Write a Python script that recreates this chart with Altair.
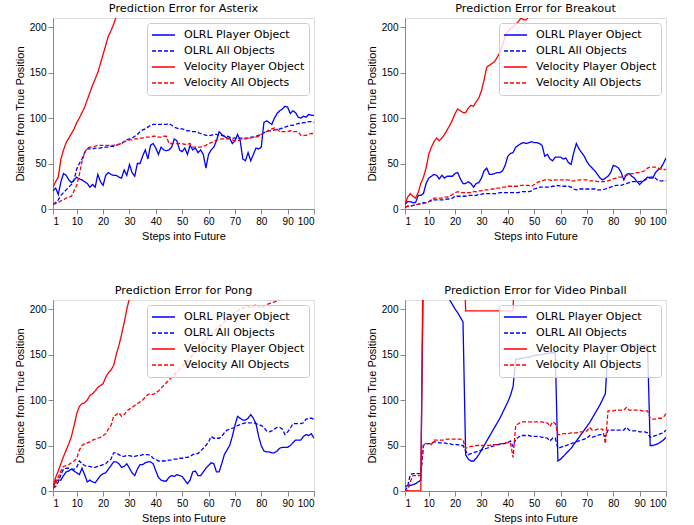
import altair as alt
import pandas as pd

steps = list(range(1, 101))
series_names = ["OLRL Player Object", "OLRL All Objects", "Velocity Player Object", "Velocity All Objects"]
titles = ["Prediction Error for Asterix", "Prediction Error for Breakout",
          "Prediction Error for Pong", "Prediction Error for Video Pinball"]
x_ticks = [1, 10, 20, 30, 40, 50, 60, 70, 80, 90, 100]
y_ticks = [0, 50, 100, 150, 200]

# ---------------- Asterix ----------------
ast_olrl_player = [20, 23, 16, 30, 39, 37, 32, 29, 32, 35, 33, 32, 30, 28, 24, 27, 24, 38, 30, 26,
                   37, 40, 38, 37, 37, 35, 34, 43, 37, 49, 40, 36, 50, 50, 58, 65, 55, 70, 72, 67,
                   60, 68, 65, 64, 65, 68, 77, 75, 65, 63, 67, 60, 70, 65, 67, 62, 65, 60, 45, 60,
                   65, 68, 75, 85, 82, 80, 78, 78, 72, 75, 82, 75, 55, 53, 62, 53, 60, 67, 66, 68,
                   95, 97, 95, 93, 100, 105, 108, 110, 113, 112, 105, 108, 106, 101, 100, 102, 101, 104, 103, 103]
ast_olrl_all = [5, 7, 10, 15, 18, 21, 24, 27, 32, 44, 50, 55, 62, 66, 66, 66, 67, 67, 67, 68,
                68, 68, 69, 69, 70, 71, 72, 74, 76, 77, 78, 80, 82, 85, 87, 88, 90, 92, 93, 93,
                93, 93, 93, 93, 94, 92, 90, 89, 88, 88, 87, 86, 86, 85, 85, 84, 83, 82, 81, 81,
                81, 82, 82, 81, 81, 80, 80, 79, 78, 78, 78, 78, 78, 78, 78, 79, 79, 80, 81, 82,
                84, 85, 86, 86, 87, 87, 88, 89, 90, 91, 92, 92, 93, 94, 94, 95, 95, 96, 96, 95]
ast_vel_player = [24, 30, 35, 55, 65, 73, 78, 83, 88, 95, 100, 106, 112, 120, 128, 136, 143, 150, 160, 170,
                  180, 190, 196, 203, 212, 221]
ast_vel_all = [5, 6, 7, 9, 10, 12, 13, 14, 20, 26, 38, 52, 62, 67, 68, 68, 69, 70, 70, 70,
               70, 70, 70, 70, 71, 71, 72, 74, 75, 76, 76, 77, 77, 78, 78, 79, 79, 79, 80, 80,
               79, 79, 80, 80, 72, 72, 72, 72, 72, 72, 71, 71, 72, 68, 68, 68, 68, 69, 70, 72,
               73, 74, 76, 76, 77, 77, 77, 77, 76, 75, 75, 76, 77, 77, 78, 78, 79, 79, 80, 82,
               84, 85, 87, 88, 89, 88, 85, 85, 85, 85, 86, 85, 85, 85, 81, 81, 81, 82, 83, 83]

# ---------------- Breakout ----------------
brk_olrl_player = [5, 8, 8, 7, 7, 15, 15, 17, 28, 34, 36, 38, 37, 33, 37, 34, 36, 36, 36, 39,
                   40, 33, 28, 28, 30, 28, 24, 28, 29, 34, 42, 45, 38, 38, 39, 40, 40, 42, 48, 58,
                   61, 62, 68, 70, 72, 73, 72, 73, 74, 73, 73, 72, 70, 58, 60, 55, 53, 57, 57, 57,
                   55, 56, 51, 49, 62, 72, 66, 62, 58, 52, 48, 45, 42, 38, 34, 32, 34, 36, 40, 48,
                   47, 45, 40, 32, 38, 39, 36, 34, 30, 27, 30, 32, 35, 34, 34, 40, 43, 45, 50, 56]
brk_olrl_all = [2, 3, 3, 4, 5, 5, 6, 7, 7, 8, 10, 10, 10, 10, 10, 10, 11, 11, 12, 14,
                14, 14, 14, 14, 15, 15, 15, 15, 16, 16, 17, 17, 17, 17, 17, 17, 18, 18, 18, 18,
                18, 18, 18, 18, 19, 19, 19, 19, 20, 22, 23, 24, 24, 24, 24, 24, 25, 25, 26, 25,
                25, 25, 25, 24, 22, 21, 22, 22, 22, 22, 22, 22, 22, 21, 21, 21, 22, 23, 24, 25,
                26, 26, 26, 27, 28, 29, 30, 30, 30, 30, 31, 32, 34, 35, 35, 34, 31, 31, 31, 31]
brk_vel_player = [5, 13, 17, 14, 12, 18, 28, 35, 45, 60, 68, 74, 78, 75, 78, 82, 87, 92, 98, 105,
                  110, 108, 106, 106, 111, 114, 113, 118, 122, 130, 142, 156, 158, 160, 162, 167, 172, 180, 190, 195,
                  198, 200, 203, 206, 210, 208, 208, 212, 215]
brk_vel_all = [2, 3, 3, 4, 4, 5, 6, 6, 7, 8, 9, 12, 12, 12, 12, 13, 13, 14, 16, 18,
               19, 18, 18, 18, 18, 18, 19, 19, 20, 20, 21, 21, 21, 22, 22, 23, 23, 24, 24, 25,
               25, 25, 25, 25, 26, 26, 26, 26, 25, 27, 29, 30, 31, 32, 32, 32, 31, 32, 32, 32,
               32, 32, 32, 31, 31, 31, 32, 32, 32, 32, 31, 31, 31, 30, 30, 30, 30, 31, 32, 33,
               34, 35, 35, 36, 37, 38, 39, 39, 40, 40, 41, 42, 45, 46, 46, 46, 45, 44, 44, 43]

# ---------------- Pong ----------------
png_olrl_player = [3, 12, 12, 12, 17, 21, 22, 24, 22, 20, 18, 25, 18, 10, 12, 10, 9, 13, 17, 19,
                   20, 24, 28, 32, 32, 30, 26, 27, 30, 25, 20, 17, 24, 29, 29, 31, 32, 32, 30, 22,
                   15, 12, 11, 11, 15, 17, 16, 18, 17, 16, 12, 8, 12, 21, 22, 17, 17, 21, 25, 28,
                   31, 30, 21, 21, 30, 40, 45, 50, 60, 72, 82, 80, 78, 78, 80, 84, 80, 74, 60, 50,
                   44, 43, 43, 42, 42, 44, 47, 48, 48, 48, 50, 53, 56, 56, 56, 60, 62, 61, 63, 58]
png_olrl_all = [3, 5, 10, 18, 24, 25, 25, 24, 24, 26, 33, 30, 28, 27, 27, 26, 26, 27, 28, 29,
                30, 33, 35, 42, 42, 40, 38, 38, 39, 39, 38, 38, 39, 39, 40, 40, 40, 39, 36, 35,
                33, 33, 33, 33, 34, 34, 35, 35, 36, 36, 37, 37, 38, 40, 41, 41, 44, 47, 50, 54,
                60, 58, 58, 58, 60, 64, 67, 68, 69, 70, 72, 73, 74, 75, 75, 75, 75, 74, 73, 72,
                70, 66, 65, 66, 68, 70, 70, 68, 62, 65, 69, 74, 74, 74, 74, 75, 79, 80, 80, 79]
png_vel_player = [3, 15, 22, 30, 38, 45, 52, 60, 72, 85, 93, 96, 97, 100, 105, 107, 110, 114, 116, 118,
                  125, 130, 133, 138, 150, 160, 172, 185, 200, 212, 225]
png_vel_all = [2, 8, 15, 22, 27, 28, 29, 31, 33, 36, 45, 50, 52, 53, 54, 56, 57, 58, 59, 61,
               63, 68, 72, 82, 84, 86, 82, 84, 88, 90, 92, 94, 96, 98, 100, 103, 106, 107, 106, 108,
               110, 113, 116, 119, 122, 125, 128, 131, 134, 137, 140, 143, 146, 150, 153, 156, 160, 163, 166, 170,
               172, 175, 178, 181, 183, 186, 189, 192, 194, 196, 198, 200, 201, 203, 203, 201, 203, 205, 203, 201,
               203, 205, 206, 207, 208, 209, 211, 213]

# ---------------- Video Pinball ----------------
vp_olrl_player = [5, 6, 6, 7, 8, 10, 12, 260, 255, 250, 245, 240, 235, 230, 225, 220, 215, 210, 205, 200,
                  196, 191, 186, 40, 35, 33, 33, 36, 40, 45, 50, 55, 60, 65, 70, 75, 80, 86, 92, 98,
                  105, 115, 145, 145, 146, 146, 147, 147, 148, 149, 149, 150, 150, 151, 151, 152, 152, 152, 33, 35,
                  38, 41, 44, 47, 51, 55, 59, 63, 67, 71, 75, 80, 85, 90, 95, 101, 107, 158, 159, 159,
                  159, 159, 160, 160, 160, 160, 160, 160, 160, 160, 160, 160, 160, 50, 50, 51, 52, 54, 56, 59]
vp_olrl_all = [0, 5, 18, 19, 19, 19, 19, 50, 52, 52, 52, 54, 54, 53, 53, 53, 52, 52, 51, 51,
               51, 50, 50, 44, 40, 41, 42, 43, 44, 45, 46, 47, 48, 49, 50, 51, 51, 52, 52, 53,
               55, 49, 57, 59, 61, 61, 61, 61, 60, 60, 60, 60, 59, 59, 58, 55, 58, 58, 47, 48,
               49, 50, 51, 52, 53, 54, 55, 56, 57, 58, 61, 59, 60, 61, 62, 62, 60, 67, 67, 67,
               67, 67, 67, 67, 70, 67, 66, 66, 66, 65, 65, 65, 64, 59, 60, 61, 62, 63, 64, 67]
vp_vel_player = [0, 0, 0, 0, 0, 0, 0, 300, 300, 300, 300, 300, 300, 300, 300, 300, 300, 300, 300, 300,
                 300, 300, 300, 198, 198, 198, 198, 198, 198, 198, 198, 198, 198, 198, 198, 198, 198, 198, 198, 198,
                 198, 198, 300]
vp_vel_all = [0, 0, 10, 17, 17, 17, 17, 52, 52, 52, 51, 56, 56, 56, 56, 56, 57, 57, 57, 57,
              57, 57, 56, 47, 48, 49, 49, 50, 50, 50, 50, 50, 50, 51, 51, 51, 52, 52, 53, 53,
              53, 37, 72, 74, 76, 76, 76, 76, 76, 76, 76, 76, 76, 75, 75, 71, 76, 74, 62, 62,
              63, 63, 63, 64, 64, 64, 65, 65, 65, 66, 70, 67, 67, 68, 68, 68, 52, 88, 88, 88,
              89, 89, 89, 89, 92, 89, 89, 89, 89, 89, 88, 88, 88, 80, 79, 79, 80, 80, 81, 85]

panels = [
    [ast_olrl_player, ast_olrl_all, ast_vel_player, ast_vel_all],
    [brk_olrl_player, brk_olrl_all, brk_vel_player, brk_vel_all],
    [png_olrl_player, png_olrl_all, png_vel_player, png_vel_all],
    [vp_olrl_player, vp_olrl_all, vp_vel_player, vp_vel_all],
]

FONT = "DejaVu Sans"
colors = ["#0000ff", "#0000ff", "#ff0000", "#ff0000"]
dashes = [[1, 0], [4, 2], [1, 0], [4, 2]]


def make_panel(title, series_lists):
    rows = []
    for k, (name, vals) in enumerate(zip(series_names, series_lists)):
        for s, v in zip(steps, vals):
            rows.append({"step": s, "value": v, "series": name, "order": k})
    df = pd.DataFrame(rows)
    legend = alt.Legend(
        title=None, orient="top-right", offset=5, symbolType="stroke",
        symbolSize=529, symbolStrokeWidth=1.4, clipHeight=16, rowPadding=0,
        labelFont=FONT, labelFontSize=11, labelColor="black", labelOffset=8,
        fillColor="rgba(255,255,255,0.8)", strokeColor="#cccccc", cornerRadius=3,
        padding=4, symbolOpacity=1,
    )
    return alt.Chart(df).mark_line(strokeWidth=1.3, clip=True).encode(
        x=alt.X("step:Q", scale=alt.Scale(domain=[1, 100], nice=False),
                axis=alt.Axis(values=x_ticks, title="Steps into Future", grid=False,
                              titleFontWeight="normal")),
        y=alt.Y("value:Q", scale=alt.Scale(domain=[0, 210], nice=False),
                axis=alt.Axis(values=y_ticks, title="Distance from True Position", grid=False,
                              titleFontWeight="normal")),
        color=alt.Color("series:N", scale=alt.Scale(domain=series_names, range=colors), legend=legend),
        strokeDash=alt.StrokeDash("series:N", scale=alt.Scale(domain=series_names, range=dashes), legend=legend),
        order=alt.Order("order:Q"),
        detail="series:N",
    ).properties(
        width=261, height=191,
        title=alt.TitleParams(title, font=FONT, fontSize=11.3, fontWeight="normal", color="black", offset=4),
    )


def indep(c):
    return c.resolve_scale(color="independent", strokeDash="independent").resolve_legend(
        color="independent", strokeDash="independent")


charts = [make_panel(t, p) for t, p in zip(titles, panels)]
top = indep(alt.hconcat(charts[0], charts[1], spacing=50))
bottom = indep(alt.hconcat(charts[2], charts[3], spacing=50))
chart = indep(alt.vconcat(top, bottom, spacing=42)).properties(
    padding={"left": 13, "top": 2, "right": 5, "bottom": 5}
).configure_view(stroke="black", strokeWidth=1).configure_axis(
    domainColor="black", tickColor="black", tickSize=3.5, labelFont=FONT, labelFontSize=12,
    labelColor="black", titleFont=FONT, titleFontSize=11.5, titleFontWeight="normal",
    titleColor="black", labelPadding=2, titlePadding=4,
).configure(background="white")

chart.save("out.html", embed_options={"renderer": "svg", "actions": False})
